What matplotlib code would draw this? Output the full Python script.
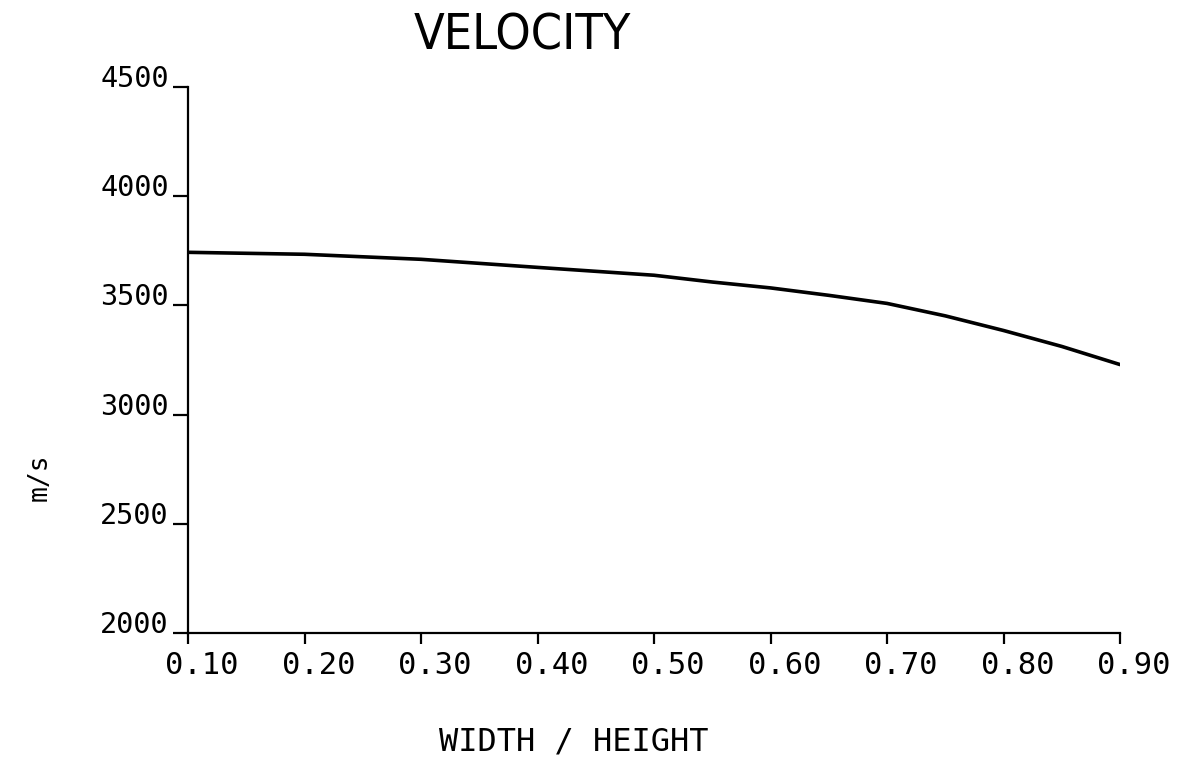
import matplotlib
matplotlib.use('Agg')
import matplotlib.pyplot as plt
from matplotlib.transforms import ScaledTranslation

# data
ratio = [0.10, 0.20, 0.30, 0.40, 0.50, 0.55, 0.60, 0.65, 0.70, 0.75, 0.80, 0.85, 0.90]
velocity = [3743, 3734, 3711, 3674, 3638, 3607, 3580, 3546, 3509, 3452, 3385, 3312, 3229]

xticks = [0.10, 0.20, 0.30, 0.40, 0.50, 0.60, 0.70, 0.80, 0.90]
xtick_labels = ['0.10', '0.20', '0.30', '0.40', '0.50', '0.60', '0.70', '0.80', '0.90']
yticks = [2000, 2500, 3000, 3500, 4000, 4500]
ytick_labels = ['2000', '2500', '3000', '3500', '4000', '4500']

MONO = 'DejaVu Sans Mono'

fig = plt.figure(figsize=(11.87, 7.76), dpi=100)
fig.patch.set_facecolor('white')
ax = fig.add_axes([0.1584, 0.1843, 0.7852, 0.7036])

ax.plot(ratio, velocity, color='black', lw=2.6, solid_capstyle='round')

ax.set_xlim(0.10, 0.90)
ax.set_ylim(2000, 4500)
for side in ('top', 'right'):
    ax.spines[side].set_visible(False)
for side in ('left', 'bottom'):
    ax.spines[side].set_linewidth(1.6)
    ax.spines[side].set_color('black')

ax.set_xticks(xticks)
ax.set_xticklabels(xtick_labels, fontsize=22, fontfamily=MONO)
ax.set_yticks(yticks)
ax.set_yticklabels(ytick_labels, fontsize=20.5, fontfamily=MONO, va='bottom')
ax.tick_params(axis='x', direction='out', length=8, width=1.6, pad=5)
ax.tick_params(axis='y', direction='out', length=11, width=1.6, pad=3)

# plotter labels sit a bit right of their ticks
shift = ScaledTranslation(14 / 100, 0, fig.dpi_scale_trans)
for lab in ax.get_xticklabels():
    lab.set_transform(lab.get_transform() + shift)
yshift = ScaledTranslation(0, -6 / 100, fig.dpi_scale_trans)
for lab in ax.get_yticklabels():
    lab.set_transform(lab.get_transform() + yshift)

fig.text(522 / 1187, 1 - 36 / 776, 'VELOCITY', fontsize=36, ha='center', va='center',
         family='DejaVu Sans', fontstretch='condensed')
fig.text(574 / 1187, 1 - 742 / 776, 'WIDTH / HEIGHT', fontsize=23, ha='center', va='center',
         family=MONO)
fig.text(40 / 1187, 1 - 477 / 776, 'm/s', fontsize=19, ha='center', va='center',
         rotation=90, family=MONO)

fig.savefig('out.png', dpi=100, facecolor='white')
